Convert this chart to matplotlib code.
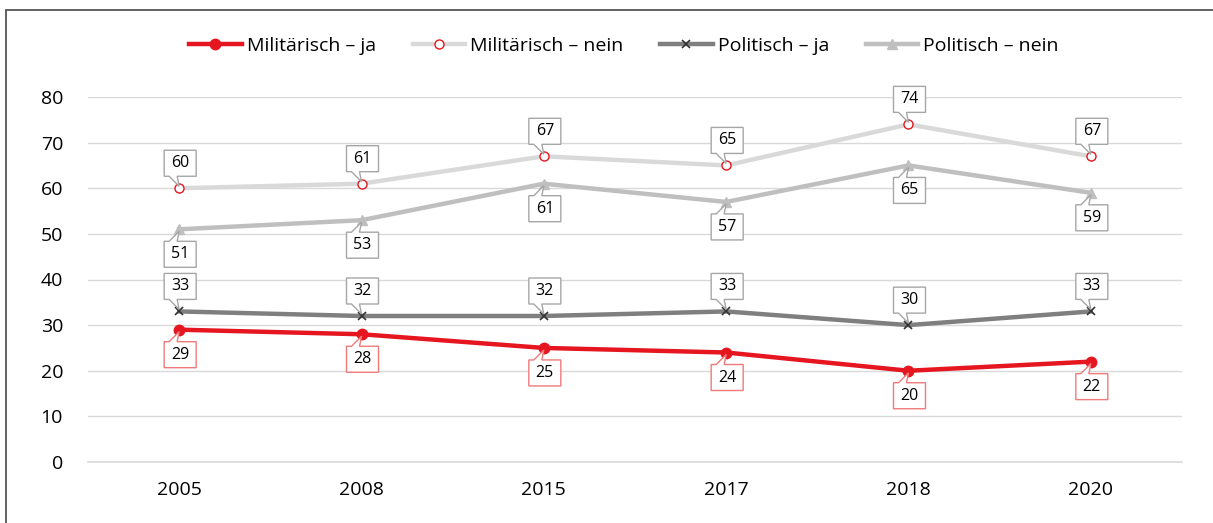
import matplotlib
matplotlib.use("Agg")
import matplotlib.pyplot as plt
import matplotlib.transforms as mtransforms
from matplotlib.patches import Polygon, Rectangle

plt.rcParams["font.family"] = ["Open Sans", "DejaVu Sans"]

years = ["2005", "2008", "2015", "2017", "2018", "2020"]
mil_ja = [29, 28, 25, 24, 20, 22]
mil_nein = [60, 61, 67, 65, 74, 67]
pol_ja = [33, 32, 32, 33, 30, 33]
pol_nein = [51, 53, 61, 57, 65, 59]

RED = "#E5161F"
RED_BOX = "#F07a7a"
GRAY_BOX = "#A6A6A6"

W, H = 1213, 523
fig = plt.figure(figsize=(W / 100, H / 100), dpi=100)
ax = fig.add_axes([88 / W, 61 / H, (1182 - 88) / W, (462 - 97) / H])

# outer frame (only top and left edges visible in the crop)
fig.patches.append(Rectangle((6 / W, -0.1), 1.2, (H - 10) / H + 0.1, transform=fig.transFigure,
                             fill=False, edgecolor="#555555", lw=1.3))

x = list(range(len(years)))
ax.plot(x, mil_nein, color="#D9D9D9", lw=3.2, marker="o", ms=6.5, mfc="white",
        mec=RED, mew=1, label="Militärisch – nein", zorder=3)
ax.plot(x, pol_nein, color="#BFBFBF", lw=3.2, marker="^", ms=6.5, mfc="#BFBFBF",
        mec="#BFBFBF", label="Politisch – nein", zorder=3)
ax.plot(x, pol_ja, color="#7F7F7F", lw=3.2, marker="x", ms=6, mec="#333333",
        mew=1.2, label="Politisch – ja", zorder=3)
ax.plot(x, mil_ja, color=RED, lw=3.2, marker="o", ms=7.5, mfc=RED, mec=RED,
        label="Militärisch – ja", zorder=4)

ax.set_xlim(-0.5, len(years) - 0.5)
ax.set_ylim(0, 80)
ax.set_yticks(range(0, 81, 10))
ax.set_xticks(x)
ax.set_xticklabels(years)
ax.grid(axis="y", color="#D9D9D9", lw=1)
ax.axhline(0, color="#D9D9D9", lw=1.2, clip_on=False, zorder=1)
ax.set_axisbelow(True)
for s in ax.spines.values():
    s.set_visible(False)
ax.tick_params(length=0, labelsize=14, colors="#000000")
ax.tick_params(axis="y", pad=18)
ax.tick_params(axis="x", pad=14)


def callout(xi, yi, text, above, edge):
    """Excel-style data callout: box plus a slanted pointer to the point (pixels)."""
    bw, bh, g = 32, 26, 12
    s = 1 if above else -1
    pts = [(-bw / 2, s * g), (-11, s * g), (-1, s * 2), (-3, s * g),
           (bw / 2, s * g), (bw / 2, s * (g + bh)), (-bw / 2, s * (g + bh))]
    pts = [(px / 100 + 0.01, py / 100) for px, py in pts]
    tr = fig.dpi_scale_trans + mtransforms.ScaledTranslation(xi, yi, ax.transData)
    ax.add_patch(Polygon(pts, closed=True, facecolor="white", edgecolor=edge,
                         lw=1, transform=tr, zorder=5, clip_on=False))
    ax.text(0.01, s * (g + bh / 2) / 100, text, transform=tr, ha="center",
            va="center", fontsize=11.5, zorder=6)


for i in x:
    callout(i, mil_nein[i], str(mil_nein[i]), True, GRAY_BOX)
    callout(i, pol_nein[i], str(pol_nein[i]), False, GRAY_BOX)
    callout(i, pol_ja[i], str(pol_ja[i]), True, GRAY_BOX)
    callout(i, mil_ja[i], str(mil_ja[i]), False, RED_BOX)

h, l = ax.get_legend_handles_labels()
order = [3, 0, 2, 1]
fig.legend([h[k] for k in order], [l[k] for k in order], loc="center",
           bbox_to_anchor=(624 / W, 1 - 46 / H), ncol=4, frameon=False,
           fontsize=14, handlelength=2.7, handletextpad=0.25, columnspacing=1.9)

fig.savefig("out.png", dpi=100)
